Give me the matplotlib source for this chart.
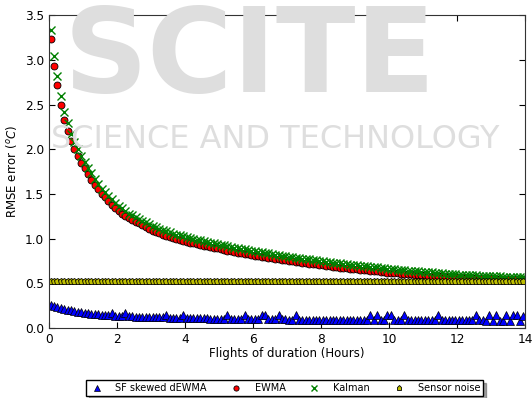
import matplotlib
matplotlib.use("Agg")
import matplotlib.pyplot as plt
import numpy as np

# sample times (hours), one every 6 minutes
hours = np.arange(140) * 0.1 + 0.05

sf_dewma = [
    0.26, 0.245, 0.235, 0.225, 0.215, 0.205, 0.198, 0.19, 0.183, 0.177,
    0.171, 0.166, 0.161, 0.157, 0.153, 0.149, 0.146, 0.143, 0.17, 0.138,
    0.136, 0.134, 0.17, 0.131, 0.129, 0.128, 0.126, 0.125, 0.124, 0.122,
    0.121, 0.12, 0.119, 0.118, 0.15, 0.116, 0.115, 0.114, 0.113, 0.15,
    0.111, 0.11, 0.109, 0.108, 0.108, 0.107, 0.106, 0.105, 0.105, 0.104,
    0.103, 0.103, 0.15, 0.102, 0.101, 0.101, 0.1, 0.15, 0.099, 0.099,
    0.098, 0.098, 0.14, 0.145, 0.097, 0.096, 0.096, 0.14, 0.095, 0.095,
    0.094, 0.094, 0.14, 0.093, 0.093, 0.093, 0.092, 0.092, 0.092, 0.091,
    0.091, 0.091, 0.09, 0.09, 0.09, 0.09, 0.089, 0.089, 0.089, 0.089,
    0.088, 0.088, 0.088, 0.088, 0.15, 0.088, 0.14, 0.087, 0.087, 0.14,
    0.14, 0.087, 0.087, 0.086, 0.14, 0.086, 0.086, 0.086, 0.086, 0.086,
    0.085, 0.085, 0.085, 0.085, 0.15, 0.085, 0.085, 0.085, 0.085, 0.084,
    0.084, 0.084, 0.084, 0.084, 0.084, 0.14, 0.084, 0.084, 0.083, 0.14,
    0.083, 0.14, 0.083, 0.083, 0.14, 0.083, 0.14, 0.14, 0.083, 0.13,
]

ewma = [
    3.23, 2.93, 2.72, 2.50, 2.33, 2.20, 2.09, 2.00, 1.92, 1.85,
    1.79, 1.72, 1.66, 1.60, 1.55, 1.50, 1.46, 1.42, 1.38, 1.34,
    1.31, 1.28, 1.25, 1.23, 1.21, 1.19, 1.17, 1.15, 1.13, 1.11,
    1.09, 1.075, 1.06, 1.045, 1.03, 1.02, 1.005, 0.995, 0.985, 0.975,
    0.965, 0.956, 0.947, 0.938, 0.93, 0.922, 0.914, 0.906, 0.898, 0.89,
    0.882, 0.874, 0.866, 0.858, 0.85, 0.843, 0.836, 0.829, 0.822, 0.815,
    0.809, 0.803, 0.797, 0.791, 0.785, 0.779, 0.773, 0.767, 0.761, 0.755,
    0.750, 0.745, 0.740, 0.735, 0.730, 0.725, 0.720, 0.715, 0.710, 0.705,
    0.700, 0.695, 0.690, 0.685, 0.680, 0.676, 0.672, 0.668, 0.664, 0.660,
    0.656, 0.652, 0.648, 0.644, 0.640, 0.636, 0.632, 0.628, 0.624, 0.620,
    0.617, 0.614, 0.611, 0.608, 0.605, 0.602, 0.599, 0.596, 0.593, 0.590,
    0.588, 0.586, 0.584, 0.582, 0.580, 0.578, 0.576, 0.574, 0.572, 0.570,
    0.568, 0.566, 0.564, 0.562, 0.560, 0.559, 0.558, 0.557, 0.556, 0.555,
    0.554, 0.553, 0.552, 0.551, 0.550, 0.549, 0.548, 0.547, 0.546, 0.545,
]

kalman = [
    3.33, 3.04, 2.82, 2.60, 2.42, 2.29, 2.17, 2.08, 2.00, 1.92,
    1.86, 1.79, 1.73, 1.67, 1.61, 1.56, 1.52, 1.48, 1.44, 1.40,
    1.37, 1.34, 1.31, 1.28, 1.26, 1.24, 1.22, 1.20, 1.18, 1.16,
    1.14, 1.125, 1.11, 1.095, 1.08, 1.068, 1.055, 1.045, 1.035, 1.025,
    1.015, 1.006, 0.997, 0.988, 0.979, 0.971, 0.963, 0.955, 0.947, 0.939,
    0.931, 0.923, 0.915, 0.907, 0.899, 0.892, 0.885, 0.878, 0.871, 0.864,
    0.857, 0.851, 0.845, 0.839, 0.833, 0.827, 0.821, 0.815, 0.809, 0.803,
    0.797, 0.792, 0.787, 0.782, 0.777, 0.772, 0.767, 0.762, 0.757, 0.752,
    0.747, 0.742, 0.737, 0.732, 0.727, 0.722, 0.717, 0.713, 0.709, 0.705,
    0.701, 0.697, 0.693, 0.689, 0.685, 0.681, 0.677, 0.673, 0.669, 0.665,
    0.661, 0.657, 0.653, 0.649, 0.645, 0.642, 0.639, 0.636, 0.633, 0.630,
    0.627, 0.624, 0.621, 0.618, 0.615, 0.612, 0.609, 0.606, 0.603, 0.600,
    0.598, 0.596, 0.594, 0.592, 0.590, 0.588, 0.586, 0.584, 0.582, 0.580,
    0.578, 0.577, 0.576, 0.575, 0.574, 0.573, 0.572, 0.571, 0.570, 0.569,
]

sensor_noise = 0.52

fig = plt.figure(figsize=(5.32, 3.98), dpi=100)

# faint publisher watermark behind the plot
wm = "#dedede"
fig.text(0.12, 0.995, "SCITE", fontsize=84, fontweight="bold", color=wm,
         ha="left", va="top", zorder=0)
fig.text(0.095, 0.65, "SCIENCE AND TECHNOLOGY", fontsize=23, color=wm,
         ha="left", va="center", zorder=0)

ax = fig.add_axes([0.092, 0.176, 0.895, 0.786])
ax.patch.set_alpha(0)

ax.plot(hours, sf_dewma, "^", color="b", mec="k", mew=0.5, ms=5.5,
        label="SF skewed dEWMA")
ax.plot(hours, ewma, "o", color="r", mec="k", mew=0.6, ms=5, label="EWMA")
ax.plot(hours, kalman, "x", color="g", mew=1.0, ms=5.5, label="Kalman")
ax.plot(hours, np.full(len(hours), sensor_noise), "p", color="#bfbf00",
        mec="k", mew=0.6, ms=5, label="Sensor noise")

ax.set_xlim(0, 14)
ax.set_ylim(0, 3.5)
ax.set_xticks(np.arange(0, 15, 2))
ax.set_yticks(np.arange(0, 3.6, 0.5))
ax.yaxis.set_major_formatter(matplotlib.ticker.FormatStrFormatter("%.1f"))
ax.tick_params(direction="in", top=True, right=True, labelsize=8.7, length=4)
for s in ax.spines.values():
    s.set_linewidth(0.8)
    s.set_color("#333333")

ax.set_xlabel("Flights of duration (Hours)", fontsize=8.5, labelpad=1)
ax.set_ylabel(r"RMSE error ($^o C$)", fontsize=8.5)

ax.legend(loc="center", bbox_to_anchor=(0.495, -0.193), ncol=4, numpoints=1,
          fontsize=7, shadow=True, fancybox=False, frameon=True,
          handlelength=1.5, handletextpad=1.2, columnspacing=2.2,
          borderpad=0.3, edgecolor="k", markerscale=0.75)

fig.savefig("out.png", dpi=100)
